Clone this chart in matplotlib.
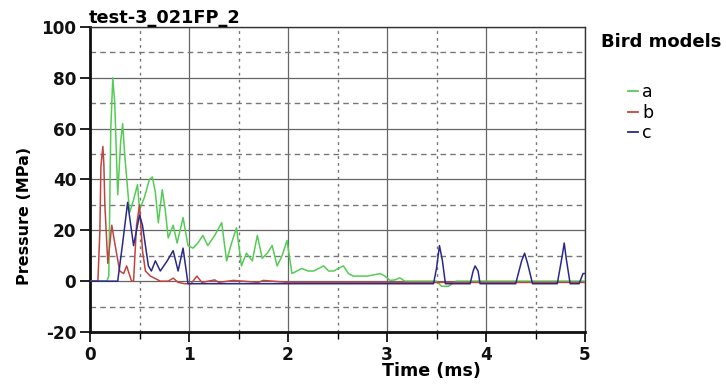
import matplotlib
matplotlib.use("Agg")
import matplotlib.pyplot as plt
from matplotlib.lines import Line2D
from matplotlib.ticker import MultipleLocator

# Pressure histories for the three bird models (time in ms, pressure in MPa)
t_a = [0, 0.17, 0.19, 0.21, 0.23, 0.25, 0.28, 0.31, 0.33, 0.35, 0.40, 0.44, 0.48,
       0.50, 0.55, 0.60, 0.63, 0.66, 0.69, 0.73, 0.76, 0.79, 0.84, 0.88, 0.94,
       0.99, 1.04, 1.09, 1.14, 1.19, 1.26, 1.33, 1.38, 1.43, 1.48, 1.53, 1.58,
       1.64, 1.69, 1.74, 1.79, 1.84, 1.89, 1.94, 1.99, 2.04, 2.09, 2.14, 2.20,
       2.26, 2.31, 2.36, 2.41, 2.46, 2.51, 2.56, 2.61, 2.66, 2.73, 2.80, 2.87,
       2.93, 2.98, 3.03, 3.08, 3.13, 3.18, 3.30, 3.50, 3.55, 3.62, 3.70, 4.00,
       4.50, 5.00]
p_a = [0, 0, 2, 60, 80, 70, 34, 55, 62, 50, 27, 32, 38,
       28, 33, 40, 41, 35, 23, 36, 28, 17, 22, 15, 25,
       14, 13, 15, 18, 14, 18, 23, 8, 15, 21, 6, 11,
       8, 18, 9, 11, 14, 6, 10, 16, 3, 4, 5, 4,
       4, 5, 6, 4, 4, 5, 6, 3, 2, 2, 2, 2.5,
       3, 2, 0.3, 0.5, 1.3, 0, 0, 0, -2, -2, 0, 0,
       0, 0]

t_b = [0, 0.08, 0.10, 0.11, 0.13, 0.14, 0.15, 0.18, 0.22, 0.25, 0.30, 0.34,
       0.37, 0.42, 0.44, 0.47, 0.50, 0.53, 0.56, 0.61, 0.71, 0.79, 0.84, 0.89,
       0.96, 1.02, 1.08, 1.13, 1.26, 1.30, 1.45, 1.70, 1.75, 2.00, 5.00]
p_b = [0, 0, 20, 45, 53, 46, 30, 7, 22, 15, 4, 3,
       6, 0, 0, 22, 30, 12, 4, 2, 0, 0, 1.2, -0.5,
       -1, -1, 2, -0.5, 0.5, -0.5, 0.3, -0.5, 0.3, -0.5, -0.5]

t_c = [0, 0.28, 0.33, 0.38, 0.44, 0.50, 0.53, 0.59, 0.62, 0.66, 0.71, 0.78,
       0.84, 0.89, 0.94, 0.99, 3.47, 3.50, 3.53, 3.56, 3.59, 3.84, 3.87, 3.89,
       3.92, 3.94, 4.30, 4.36, 4.39, 4.42, 4.47, 4.72, 4.77, 4.79, 4.81, 4.85,
       4.94, 4.98, 5.00]
p_c = [0, 0, 15, 31, 14, 26, 22, 6, 4, 8, 4, 8,
       12, 4, 13, -1, -1, 5, 14, 8, -1, -1, 4, 6,
       4, -1, -1, 8, 11, 7, -1, -1, 10, 15, 9, -1,
       -1, 3, 3]

series_names = ["a", "b", "c"]
series_colors = ["#55cc55", "#c0453f", "#2a2a88"]

plt.rcParams["font.family"] = ["DejaVu Sans"]
plt.rcParams["axes.unicode_minus"] = False

fig = plt.figure(figsize=(7.26, 3.85), dpi=100)
ax = fig.add_axes([90 / 726, 1 - 332 / 385, 495 / 726, 305 / 385])

for tt, pp, col in zip([t_a, t_b, t_c], [p_a, p_b, p_c], series_colors):
    ax.plot(tt, pp, color=col, lw=1.1, zorder=3)

ax.set_xlim(0, 5)
ax.set_ylim(-20, 100)
ax.xaxis.set_major_locator(MultipleLocator(1))
ax.xaxis.set_minor_locator(MultipleLocator(0.5))
ax.yaxis.set_major_locator(MultipleLocator(20))
ax.yaxis.set_minor_locator(MultipleLocator(10))

ax.grid(which="major", color="#666666", lw=0.9, ls="-", zorder=1)
ax.xaxis.grid(which="minor", color="#777777", lw=1.0, ls=(0, (2, 3)), zorder=1)
ax.yaxis.grid(which="minor", color="#777777", lw=1.0, ls=(0, (4, 3)), zorder=1)
ax.set_axisbelow(True)

for side in ["left", "bottom"]:
    ax.spines[side].set_linewidth(2.0)
    ax.spines[side].set_color("#111111")
for side in ["top", "right"]:
    ax.spines[side].set_linewidth(1.0)
    ax.spines[side].set_color("#333333")

ax.tick_params(axis="both", which="major", direction="out", length=7, width=1.3,
               labelsize=12.2, pad=3, colors="#111111")
ax.tick_params(axis="x", which="minor", direction="out", length=5, width=1.0)
ax.tick_params(axis="y", which="minor", length=0)
for lbl in ax.get_xticklabels() + ax.get_yticklabels():
    lbl.set_fontweight("bold")

ax.set_xlabel("Time (ms)", fontsize=12.6, fontweight="bold")
ax.xaxis.set_label_coords(0.69, -0.1)
ax.set_ylabel("Pressure (MPa)", fontsize=11.5, fontweight="bold")
ax.yaxis.set_label_coords(-0.117, 0.38)

ax.set_title("test-3_021FP_2", loc="left", fontsize=12.8, fontweight="bold",
             pad=1, x=-0.003)

fig.text(661 / 726, 1 - 42 / 385, "Bird models", fontsize=13, fontweight="bold",
         ha="center", va="center")

handles = [Line2D([], [], color=c, lw=1.3) for c in series_colors]
ax.legend(handles, series_names, loc="upper left",
          bbox_to_anchor=(628 / 726, 1 - 83 / 385), bbox_transform=fig.transFigure,
          frameon=False, fontsize=12.5, handlelength=0.6, handletextpad=0.2,
          labelspacing=0.15, borderpad=0, borderaxespad=0)

fig.savefig("out.png", dpi=100)
